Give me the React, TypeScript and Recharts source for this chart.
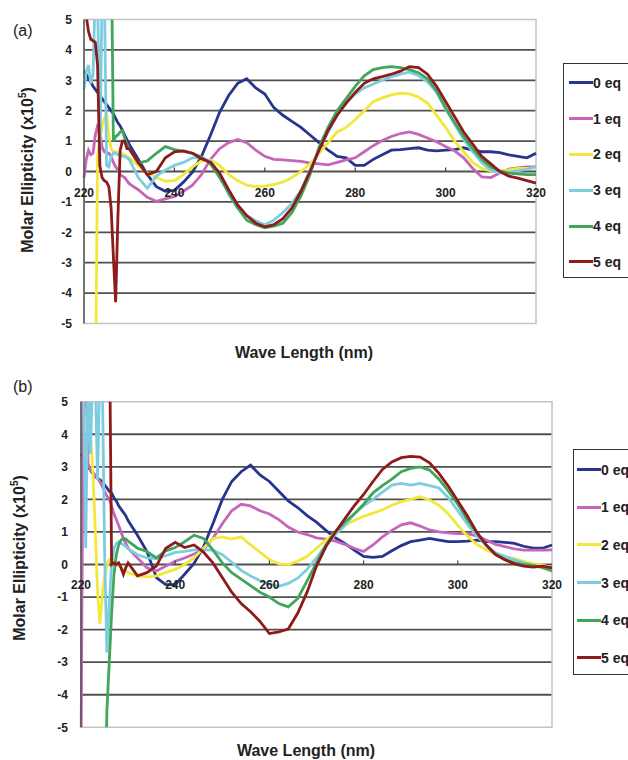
import React from 'react';
import { LineChart, Line, XAxis, YAxis, CartesianGrid, ReferenceLine, ReferenceArea, ReferenceDot, Legend } from 'recharts';

// wavelength grid (nm): half-nm steps up to 230, then 2 nm
const wavelengths = [
  220, 220.5, 221, 221.5, 222, 222.5, 223, 223.5, 224, 224.5, 225, 225.5, 226, 226.5, 227, 227.5, 228, 228.5, 229, 229.5, 230,
  232, 234, 236, 238, 240, 242, 244, 246, 248, 250, 252, 254, 256, 258, 260, 262, 264, 266, 268, 270,
  272, 274, 276, 278, 280, 282, 284, 286, 288, 290, 292, 294, 296, 298, 300, 302, 304, 306, 308, 310,
  312, 314, 316, 318, 320,
];

const seriesNames = ['0 eq', '1 eq', '2 eq', '3 eq', '4 eq', '5 eq'];
const seriesColors = ['#27358c', '#c765b8', '#f1e83a', '#7dcde0', '#3fa65c', '#8e1b1b'];

const yTicks = [-5, -4, -3, -2, -1, 0, 1, 2, 3, 4, 5];
const innerGrid = [-4, -3, -2, -1, 1, 2, 3, 4];
const xTicks = [220, 240, 260, 280, 300, 320];

// panel (a)
const a0 = [
  3.3, 3.2, 3.05, 2.95, 2.8, 2.7, 2.6, 2.5, 2.4, 2.3, 2.2, 2.1, 2.0, 1.9, 1.75, 1.6, 1.5, 1.35, 1.2, 1.05, 0.9,
  0.4, -0.1, -0.5, -0.65, -0.62,
  -0.35, -0.02, 0.5, 1.2, 1.95,
  2.5, 2.9, 3.05, 2.75, 2.55,
  2.1, 1.85, 1.65, 1.45, 1.2,
  0.95, 0.7, 0.5, 0.45, 0.2,
  0.2, 0.4, 0.55, 0.7, 0.72,
  0.75, 0.78, 0.7, 0.68, 0.7,
  0.72, 0.78, 0.7, 0.65, 0.65,
  0.62, 0.55, 0.5, 0.45, 0.6,
];
const a1 = [
  -0.2, 0.4, 0.7, 0.55, 0.6, 1.2, 1.5, 1.4, 0.8, 0.65, 0.6, 0.6, 0.5, 0.3, 0.15, 0.05, -0.1, -0.15, -0.2, -0.3, -0.4,
  -0.6, -0.85, -0.98, -0.9, -0.82,
  -0.65, -0.45, -0.1, 0.4, 0.75,
  0.95, 1.05, 0.95, 0.7, 0.5,
  0.4, 0.38, 0.36, 0.33, 0.28,
  0.25, 0.22, 0.3, 0.38, 0.45,
  0.65, 0.85, 1.02, 1.15, 1.25,
  1.3, 1.22, 1.1, 0.98, 0.82,
  0.68, 0.45, 0.1, -0.18, -0.2,
  -0.05, 0.08, 0.12, 0.15, 0.15,
];
const a2 = [
  -8, -8, -8, -8, -8, -8, 0.5, 1.0, 1.5, 1.75, 1.85, 1.2, 0.75, 0.65, 0.65, 0.62, 0.62, 0.58, 0.55, 0.5, 0.45,
  0.2, -0.05, -0.2, -0.32, -0.3,
  -0.1, 0.15, 0.35, 0.38, 0.2,
  -0.1, -0.3, -0.45, -0.5, -0.48,
  -0.42, -0.35, -0.2, 0.0, 0.25,
  0.6, 0.95, 1.3, 1.45, 1.7,
  2.0, 2.3, 2.42, 2.52, 2.58,
  2.55, 2.45, 2.25, 1.85, 1.45,
  1.0, 0.65, 0.3, 0.1, 0.02,
  0.0, 0.05, 0.1, 0.1, 0.12,
];
const a3 = [
  2.7, 3.3, 3.5, 2.9, 3.2, 6, 6, 0.2, 6, 6, 0.2, 0.15, 0.5, 0.6, 0.6, 0.55, 0.55, 0.5, 0.5, 0.45, 0.4,
  -0.2, -0.55, -0.15, 0.05, 0.2,
  0.3, 0.45, 0.45, 0.35, -0.1,
  -0.75, -1.2, -1.45, -1.62, -1.75,
  -1.6, -1.35, -1.05, -0.62, 0.05,
  0.7, 1.3, 1.85, 2.25, 2.55,
  2.75, 2.88, 3.0, 3.12, 3.2,
  3.27, 3.15, 2.95, 2.6, 2.05,
  1.55, 1.05, 0.65, 0.3, 0.05,
  -0.05, -0.02, 0.02, 0.08, 0.15,
];
const a4 = [
  8, 8, 8, 8, 8, 8, 8, 8, 8, 8, 8, 8, 8, 1.0, 1.15, 1.2, 1.3, 1.35, 1.1, 0.9, 0.75,
  0.28, 0.35, 0.6, 0.82, 0.72,
  0.66, 0.6, 0.48, 0.25, -0.2,
  -0.7, -1.2, -1.6, -1.75, -1.85,
  -1.8, -1.7, -1.35, -0.8, -0.1,
  0.8, 1.45, 2.0, 2.4, 2.8,
  3.15, 3.35, 3.42, 3.45, 3.42,
  3.35, 3.25, 3.05, 2.65, 2.1,
  1.6, 1.15, 0.75, 0.4, 0.15,
  0.02, -0.05, -0.08, -0.1, -0.1,
];
const a5 = [
  5.3, 5.1, 4.6, 4.35, 4.3, 4.25, 3.5, 0.2, -0.2, -0.3, -0.35, -0.5, -1.2, -2.8, -4.3, -1.5, 0.7, 1.0, 1.0, 0.75, 0.75,
  0.3, -0.1, 0.0, 0.45, 0.65,
  0.68, 0.6, 0.42, 0.3, -0.05,
  -0.6, -1.1, -1.45, -1.7, -1.82,
  -1.75, -1.55, -1.2, -0.65, 0.0,
  0.7, 1.35, 1.85, 2.25, 2.6,
  2.9, 3.05, 3.12, 3.2, 3.3,
  3.45, 3.42, 3.2, 2.8, 2.3,
  1.8, 1.3, 0.9, 0.5, 0.25,
  0.0, -0.15, -0.22, -0.3, -0.38,
];

// panel (b)
const b0 = [
  3.4, 3.25, 3.1, 3.0, 2.9, 2.8, 2.7, 2.65, 2.6, 2.55, 2.45, 2.35, 2.25, 2.2, 2.05, 1.95, 1.8, 1.7, 1.6, 1.5, 1.35,
  0.9, 0.4, -0.4, -0.62, -0.62,
  -0.3, 0.03, 0.54, 1.25, 2.0,
  2.55, 2.85, 3.05, 2.75, 2.55,
  2.25, 1.95, 1.75, 1.5, 1.3,
  1.05, 0.82, 0.65, 0.44, 0.25,
  0.22, 0.25, 0.42, 0.58, 0.7,
  0.75, 0.8, 0.75, 0.7, 0.7,
  0.72, 0.75, 0.7, 0.7, 0.68,
  0.65, 0.56, 0.5, 0.5, 0.6,
];
const b1 = [
  -6, 6, 6, 3.1, 2.9, 2.85, 2.75, 2.65, 2.55, 2.4, 2.25, 2.1, 2.0, 1.8, 1.55, 1.38, 1.2, 1.0, 0.8, 0.65, 0.5,
  0.2, -0.1, -0.2, -0.05, 0.1,
  0.2, 0.32, 0.45, 0.8, 1.25,
  1.65, 1.85, 1.8, 1.65, 1.55,
  1.38, 1.15, 1.0, 0.92, 0.82,
  0.78, 0.72, 0.62, 0.5, 0.4,
  0.6, 0.85, 1.05, 1.22, 1.28,
  1.18, 1.06, 1.0, 0.97, 0.95,
  0.95, 0.88, 0.75, 0.62, 0.55,
  0.48, 0.44, 0.44, 0.44, 0.45,
];
const b2 = [
  7, 7, 7, 5.5, 4, 2.9, 1.2, -0.8, -1.82, -1.0, -0.35, -0.05, 0.15, 0.2, 0.1, 0.0, -0.05, -0.1, -0.15, -0.2, -0.25,
  -0.35, -0.38, -0.35, -0.25, -0.15,
  0.0, 0.2, 0.5, 0.8, 0.85,
  0.78, 0.85, 0.6, 0.38, 0.15,
  0.02, 0.0, 0.1, 0.25, 0.5,
  0.75, 0.98, 1.2, 1.35, 1.48,
  1.58, 1.68, 1.82, 1.93, 2.0,
  2.08, 1.98, 1.82, 1.55, 1.2,
  0.88, 0.62, 0.45, 0.32, 0.25,
  0.18, 0.1, 0.03, -0.02, -0.1,
];
const b3 = [
  6, 6, 0.5, 6, 3.4, 6, 6, 2.6, 6, 6, 0.5, -2.7, -1.2, 0.0, 0.5, 0.65, 0.7, 0.65, 0.6, 0.55, 0.48,
  0.3, 0.2, 0.18, 0.27, 0.37,
  0.4, 0.45, 0.45, 0.44, 0.3,
  0.07, -0.18, -0.35, -0.5, -0.6,
  -0.67, -0.58, -0.42, -0.15, 0.2,
  0.6, 0.92, 1.2, 1.55, 1.8,
  2.0, 2.22, 2.44, 2.49, 2.44,
  2.49, 2.42, 2.35, 2.05, 1.65,
  1.25, 0.88, 0.6, 0.36, 0.25,
  0.15, 0.05, -0.03, -0.07, -0.1,
];
const b4 = [
  -8, -8, -8, -8, -8, -8, -8, -8, -8, -8, -8, -4.5, -3, -1.5, -0.3, 0.3, 0.6, 0.75, 0.8, 0.78, 0.72,
  0.5, 0.4, 0.2, 0.42, 0.52,
  0.7, 0.9, 0.8, 0.45, 0.05,
  -0.25, -0.45, -0.65, -0.85, -1.0,
  -1.2, -1.3, -1.05, -0.5, 0.05,
  0.6, 1.0, 1.3, 1.55, 1.85,
  2.2, 2.42, 2.62, 2.85, 2.95,
  3.0, 2.9, 2.62, 2.25, 1.85,
  1.38, 0.98, 0.6, 0.32, 0.15,
  0.06, 0.0, -0.03, -0.1, -0.2,
];
const b5 = [
  8, 8, 8, 8, 8, 8, 8, 8, 8, 8, 8, 8, 8, 0.0, 0.05, 0.0, 0.05, -0.1, -0.3, -0.1, 0.05,
  -0.35, -0.25, -0.05, 0.5, 0.68,
  0.52, 0.6, 0.38, 0.05, -0.4,
  -0.85, -1.2, -1.45, -1.75, -2.12,
  -2.07, -1.98, -1.5, -0.85, -0.05,
  0.55, 1.0, 1.4, 1.8, 2.15,
  2.55, 2.92, 3.15, 3.28, 3.32,
  3.3, 3.12, 2.8, 2.4, 1.95,
  1.5, 1.0, 0.6, 0.3, 0.15,
  0.02, -0.05, -0.08, -0.05, -0.1,
];

const FONT = '"Liberation Sans", Arial, Helvetica, sans-serif';

function buildRows(series: number[][]) {
  return wavelengths.map((w, i) => {
    const row: Record<string, number> = { w };
    series.forEach((s, k) => {
      row['s' + k] = s[i];
    });
    return row;
  });
}

// tick label + small mark sitting on the zero line
const zeroTick = (value: number, gap: number) => (p: any) => (
  <g>
    {value !== 220 && value !== 320 && (
      <line x1={p.cx} x2={p.cx} y1={p.cy} y2={p.cy - 4} stroke="#444" strokeWidth={1.2} />
    )}
    <text x={p.cx} y={p.cy + gap} textAnchor="middle" dominantBaseline="central" fontSize={12} fontWeight={700} fill="#222" fontFamily={FONT}>
      {value}
    </text>
  </g>
);

const LegendBox = ({ payload, rowH, padTop, lineLeft }: any) => (
  <div style={{ border: '1.5px solid #333', background: '#fff', paddingTop: padTop, fontFamily: FONT, boxSizing: 'border-box', height: '100%' }}>
    {(payload || []).map((item: any) => (
      <div key={item.value} style={{ height: rowH, display: 'flex', alignItems: 'center' }}>
        <span style={{ display: 'inline-block', width: 24, height: 3, background: item.color, marginLeft: lineLeft }} />
        <span style={{ fontSize: 14, fontWeight: 700, color: '#222', whiteSpace: 'nowrap' }}>{item.value}</span>
      </div>
    ))}
  </div>
);

interface PanelProps {
  series: number[][];
  top: number;
  margin: { top: number; right: number; bottom: number; left: number };
  tickMargin: number;
  labelGap: number;
  legend: { left: number; top: number; width: number; height: number; rowH: number; padTop: number; lineLeft: number };
}

const Panel: React.FC<PanelProps> = ({ series, top, margin, tickMargin, labelGap, legend }) => {
  const rows = buildRows(series);
  return (
    <div style={{ position: 'absolute', left: 0, top }}>
      <LineChart width={628} height={380} data={rows} margin={margin}>
        <CartesianGrid vertical={false} horizontalValues={innerGrid} stroke="#505050" strokeWidth={1.8} />
        <ReferenceArea x1={220} x2={320} y1={-5} y2={5} fill="none" stroke="#c4c4c4" strokeWidth={1.5} />
        <XAxis type="number" dataKey="w" domain={[220, 320]} hide />
        <YAxis
          domain={[-5, 5]}
          ticks={yTicks}
          allowDataOverflow
          width={30}
          tickSize={0}
          tickMargin={tickMargin}
          axisLine={{ stroke: '#555', strokeWidth: 1.5 }}
          tick={{ fill: '#222', fontSize: 12, fontWeight: 700, fontFamily: FONT }}
        />
        <ReferenceLine y={0} stroke="#505050" strokeWidth={1.8} />
        {xTicks.map((t) => (
          <ReferenceDot key={t} x={t} y={0} r={0} shape={zeroTick(t, labelGap)} />
        ))}
        {seriesNames.map((name, k) => (
          <Line
            key={name}
            type="linear"
            dataKey={'s' + k}
            name={name}
            stroke={seriesColors[k]}
            strokeWidth={2.8}
            dot={false}
            activeDot={false}
            isAnimationActive={false}
          />
        ))}
        <Legend
          layout="horizontal"
          verticalAlign="middle"
          align="center"
          wrapperStyle={{ left: legend.left, top: legend.top, width: legend.width, height: legend.height }}
          content={(props: any) => (
            <LegendBox payload={props.payload} rowH={legend.rowH} padTop={legend.padTop} lineLeft={legend.lineLeft} />
          )}
        />
      </LineChart>
    </div>
  );
};

const yTitle = (cx: number, cy: number) => (
  <div
    style={{
      position: 'absolute',
      left: cx,
      top: cy,
      transform: 'translate(-50%, -50%) rotate(-90deg)',
      whiteSpace: 'nowrap',
      fontFamily: FONT,
      fontWeight: 700,
      fontSize: 16,
      color: '#222',
    }}
  >
    Molar Ellipticity (x10<sup style={{ fontSize: 10 }}>5</sup>)
  </div>
);

const xTitle = (cx: number, cy: number) => (
  <div
    style={{
      position: 'absolute',
      left: cx,
      top: cy,
      transform: 'translate(-50%, -50%)',
      whiteSpace: 'nowrap',
      fontFamily: FONT,
      fontWeight: 700,
      fontSize: 16,
      color: '#222',
    }}
  >
    Wave Length (nm)
  </div>
);

const panelTag = (text: string, cy: number) => (
  <div style={{ position: 'absolute', left: 13, top: cy, transform: 'translateY(-50%)', fontFamily: FONT, fontSize: 16, color: '#222' }}>
    {text}
  </div>
);

export default function App() {
  return (
    <div style={{ position: 'absolute', left: 0, top: 0, width: 628, height: 760, overflow: 'hidden', background: '#fff' }}>
      <Panel
        series={[a0, a1, a2, a3, a4, a5]}
        top={0}
        margin={{ top: 19.5, right: 92, bottom: 56.5, left: 54 }}
        tickMargin={12}
        labelGap={21}
        legend={{ left: 563, top: 63, width: 66, height: 215, rowH: 35.8, padTop: 1, lineLeft: 5 }}
      />
      <Panel
        series={[b0, b1, b2, b3, b4, b5]}
        top={380}
        margin={{ top: 21.7, right: 76, bottom: 32.7, left: 51 }}
        tickMargin={13}
        labelGap={20}
        legend={{ left: 573, top: 69, width: 80, height: 226, rowH: 37.6, padTop: 1, lineLeft: 3 }}
      />
      {panelTag('(a)', 31)}
      {panelTag('(b)', 387)}
      {yTitle(27, 170)}
      {yTitle(19, 558)}
      {xTitle(304, 353)}
      {xTitle(306, 751)}
    </div>
  );
}
